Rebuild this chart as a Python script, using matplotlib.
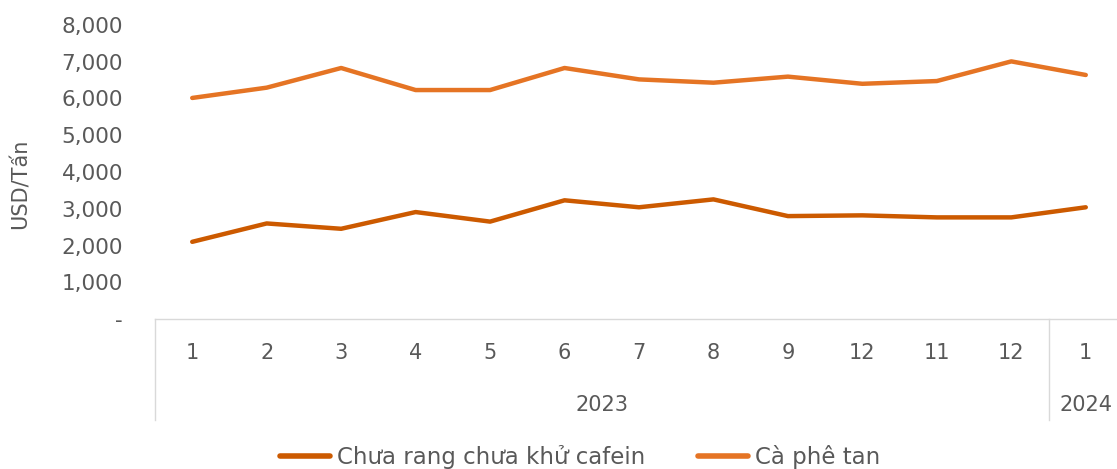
# -*- coding: utf-8 -*-
import matplotlib
matplotlib.use("Agg")
import matplotlib.pyplot as plt
import matplotlib.transforms as mtransforms

# tháng (giữ nguyên nhãn như bảng gốc)
months = ["1", "2", "3", "4", "5", "6", "7", "8", "9", "12", "11", "12", "1"]
years = ["2023", "2024"]
year_counts = [12, 1]

# giá xuất khẩu, USD/tấn
chua_rang = [2100, 2600, 2455, 2910, 2650, 3230, 3040, 3255, 2800, 2820, 2765, 2765, 3040]
ca_phe_tan = [6015, 6295, 6830, 6230, 6230, 6830, 6520, 6430, 6595, 6400, 6475, 7010, 6640]

series_names = ["Chưa rang chưa khử cafein", "Cà phê tan"]
colors = ["#CC5A00", "#E57424"]
grey = "#595959"
line_grey = "#D9D9D9"

plt.rcParams['font.family'] = ['DejaVu Sans']

W, H = 1117, 469
fig = plt.figure(figsize=(W / 100, H / 100), dpi=100)
# vùng vẽ: trái 155px, phải ~1123px, trên 25px, dưới 319px
ax = fig.add_axes([155 / W, (H - 319) / H, (1123 - 155) / W, (319 - 25) / H])

x = list(range(len(months)))
ax.plot(x, chua_rang, color=colors[0], lw=3.2, solid_capstyle="round",
        solid_joinstyle="round", label=series_names[0])
ax.plot(x, ca_phe_tan, color=colors[1], lw=3.2, solid_capstyle="round",
        solid_joinstyle="round", label=series_names[1])

ax.set_xlim(-0.5, len(months) - 0.5)
ax.set_ylim(0, 8000)
yt = list(range(0, 8001, 1000))
ax.set_yticks(yt)
ax.set_yticklabels(["-"] + ["{:,}".format(v) for v in yt[1:]], fontsize=15.5, color=grey)
ax.tick_params(axis="y", length=0, pad=23)
ax.set_xticks([])

for s in ["top", "right", "left"]:
    ax.spines[s].set_visible(False)
ax.spines["bottom"].set_color(line_grey)
ax.spines["bottom"].set_linewidth(1)

ax.set_ylabel("USD/Tấn", fontsize=15, color=grey)
ax.yaxis.set_label_coords(-0.128, 0.46)

# trục phân loại hai tầng
trans = mtransforms.blended_transform_factory(ax.transData, ax.transAxes)
for i, m in enumerate(months):
    ax.text(i, -0.116, m, transform=trans, ha="center", va="center",
            fontsize=15, color=grey)

start = -0.5
ax.plot([start, start], [0, -0.345], transform=trans, color=line_grey, lw=1, clip_on=False)
for yr, n in zip(years, year_counts):
    end = start + n
    ax.text((start + end) / 2, -0.293, yr, transform=trans, ha="center", va="center",
            fontsize=15, color=grey)
    ax.plot([end, end], [0, -0.345], transform=trans, color=line_grey, lw=1, clip_on=False)
    start = end

leg = fig.legend(loc="center", bbox_to_anchor=(580 / W, 1 - 457 / H), ncol=2,
                 frameon=False, fontsize=16.5, handlelength=2.2, handletextpad=0.3,
                 columnspacing=2.3)
for t in leg.get_texts():
    t.set_color(grey)
for h in leg.legend_handles:
    h.set_linewidth(4)

fig.savefig("out.png", dpi=100)
